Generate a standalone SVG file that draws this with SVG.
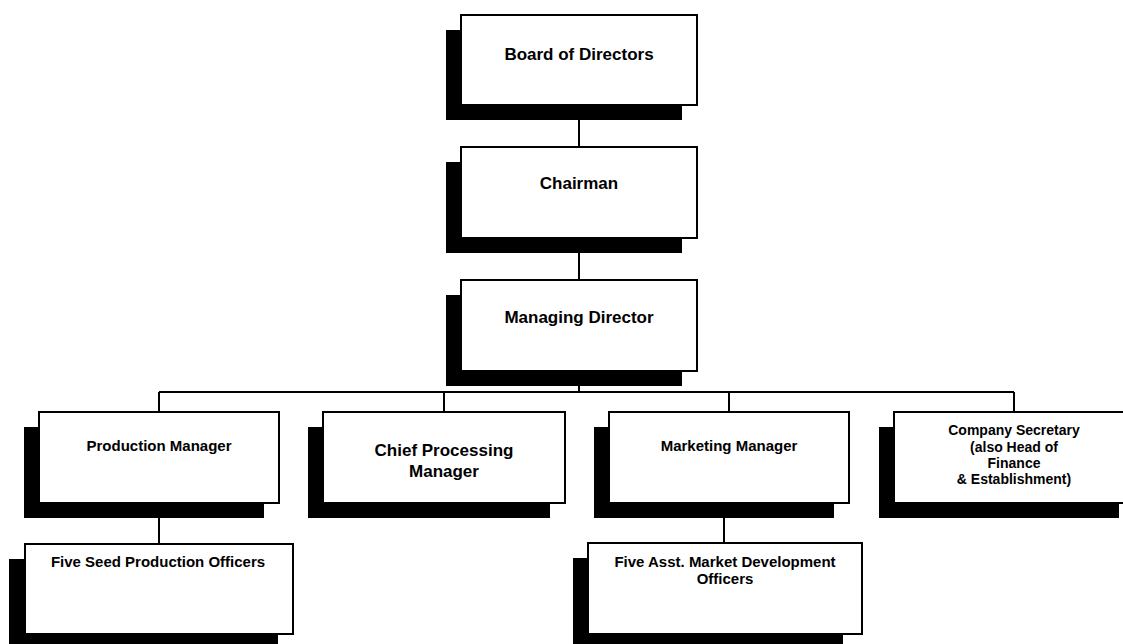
<svg xmlns="http://www.w3.org/2000/svg" width="1123" height="644" viewBox="0 0 1123 644">
  <style>
    .shadow { fill: #000; }
    .box { fill: #fff; stroke: #000; stroke-width: 2; }
    .wire { fill: none; stroke: #000; stroke-width: 2; }
    text { font-family: "Liberation Sans", Arial, sans-serif; font-weight: bold; fill: #000; text-anchor: middle; }
    .big { font-size: 17px; }
    .mid { font-size: 15px; }
    .small { font-size: 14px; }
  </style>
  <rect width="1123" height="644" fill="#fff"/>

  <!-- reporting lines -->
  <g id="connectors">
    <path class="wire" d="M579 105 V147 M579 238 V280 M579 371 V392 M159 392 H1014 M159 392 V412 M444 392 V412 M729 392 V412 M1014 392 V412 M159 503 V544 M724 503 V543"/>
  </g>

  <g id="board">
    <rect class="shadow" x="446" y="30" width="236" height="90"/>
    <rect class="box" x="461" y="15" width="236" height="90"/>
    <text class="big" x="579" y="60">Board of Directors</text>
  </g>

  <g id="chairman">
    <rect class="shadow" x="446" y="162" width="236" height="91"/>
    <rect class="box" x="461" y="147" width="236" height="91"/>
    <text class="big" x="579" y="189">Chairman</text>
  </g>

  <g id="managing-director">
    <rect class="shadow" x="446" y="295" width="236" height="91"/>
    <rect class="box" x="461" y="280" width="236" height="91"/>
    <text class="big" x="579" y="323">Managing Director</text>
  </g>

  <g id="production-manager">
    <rect class="shadow" x="24" y="427" width="240" height="91"/>
    <rect class="box" x="39" y="412" width="240" height="91"/>
    <text class="mid" x="159" y="451">Production Manager</text>
  </g>

  <g id="chief-processing-manager">
    <rect class="shadow" x="308" y="427" width="242" height="91"/>
    <rect class="box" x="323" y="412" width="242" height="91"/>
    <text class="big" x="444" y="456">Chief Processing</text>
    <text class="big" x="444" y="477">Manager</text>
  </g>

  <g id="marketing-manager">
    <rect class="shadow" x="594" y="427" width="240" height="91"/>
    <rect class="box" x="609" y="412" width="240" height="91"/>
    <text class="mid" x="729" y="451">Marketing Manager</text>
  </g>

  <g id="company-secretary">
    <rect class="shadow" x="879" y="427" width="240" height="91"/>
    <rect class="box" x="894" y="412" width="240" height="91"/>
    <text class="small" x="1014" y="435">Company Secretary</text>
    <text class="small" x="1014" y="452">(also Head of</text>
    <text class="small" x="1014" y="468">Finance</text>
    <text class="small" x="1014" y="484">&amp; Establishment)</text>
  </g>

  <g id="seed-production-officers">
    <rect class="shadow" x="9" y="559" width="269" height="90"/>
    <rect class="box" x="25" y="544" width="268" height="90"/>
    <text class="mid" x="158" y="567">Five Seed Production Officers</text>
  </g>

  <g id="market-development-officers">
    <rect class="shadow" x="573" y="558" width="270" height="91"/>
    <rect class="box" x="588" y="543" width="274" height="91"/>
    <text class="mid" x="725" y="567">Five Asst. Market Development</text>
    <text class="mid" x="725" y="584">Officers</text>
  </g>
</svg>
